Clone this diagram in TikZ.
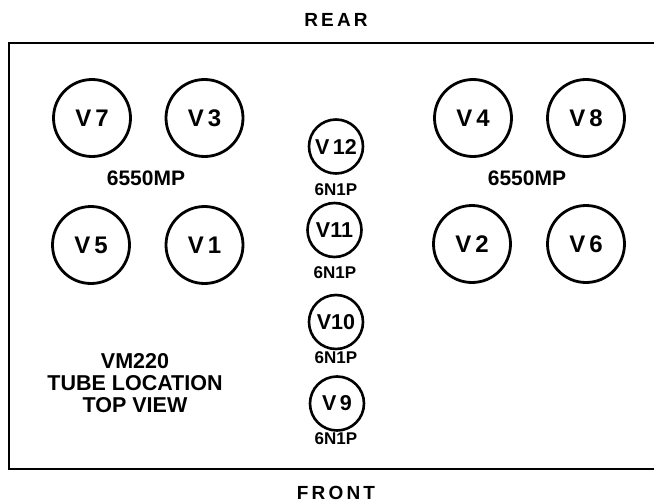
\documentclass[tikz,border=0pt]{standalone}
\usepackage{fontspec}
\setmainfont{Liberation Sans}
\begin{document}
\begin{tikzpicture}[x=1pt,y=-1pt,
  bigtube/.style={circle,draw,line width=2.8pt,minimum size=77pt,inner sep=0pt,font=\fontsize{24}{24}\selectfont\bfseries},
  smalltube/.style={circle,draw,line width=2.6pt,minimum size=54pt,inner sep=0pt,font=\fontsize{21.5}{21.5}\selectfont\bfseries},
  biglabel/.style={font=\fontsize{21}{21}\selectfont\bfseries},
  smalllabel/.style={font=\fontsize{17}{17}\selectfont\bfseries},
  sidelabel/.style={font=\fontsize{19}{19}\selectfont\bfseries},
  frame/.style={line width=2.8pt}]
\useasboundingbox (0,0) rectangle (654,503);
% frame
\coordinate (tr) at (656,43);
\coordinate (tl) at (9,43);
\coordinate (bl) at (9,469);
\coordinate (br) at (656,469);
\draw[frame] (tr) -- (tl) -- (bl) -- (br);
\node[sidelabel] (rear) at (336,20) {R\,E\,A\,R};
\node[sidelabel] (front) at (336,493) {F\,R\,O\,N\,T};
% big tubes
\node[bigtube] (v7) at (92,118) {V\,7};
\node[bigtube] (v3) at (204.5,118) {V\,3};
\node[bigtube] (v4) at (473,118) {V\,4};
\node[bigtube] (v8) at (586,118) {V\,8};
\node[bigtube] (v5) at (91,245) {V\,5};
\node[bigtube] (v1) at (204.5,245) {V\,1};
\node[bigtube] (v2) at (472,244) {V\,2};
\node[bigtube] (v6) at (586,244) {V\,6};
\node[biglabel] (l1) at (146,178) {6550MP};
\node[biglabel] (l2) at (527,178) {6550MP};
% small tubes
\node[smalltube] (v12) at (336,146.5) {V\,12};
\node[smalltube] (v11) at (334.5,230) {V11};
\node[smalltube] (v10) at (336,322) {V10};
\node[smalltube] (v9) at (337,403.5) {V\,9};
\node[smalllabel] (s12) at (336,190) {6N1P};
\node[smalllabel] (s11) at (335,273) {6N1P};
\node[smalllabel] (s10) at (336,358) {6N1P};
\node[smalllabel] (s9) at (336,439) {6N1P};
% title
\node[font=\fontsize{21.5}{22}\selectfont\bfseries,align=center] (title) at (135,383.5) {VM220\\TUBE LOCATION\\TOP VIEW};
\end{tikzpicture}
\end{document}
